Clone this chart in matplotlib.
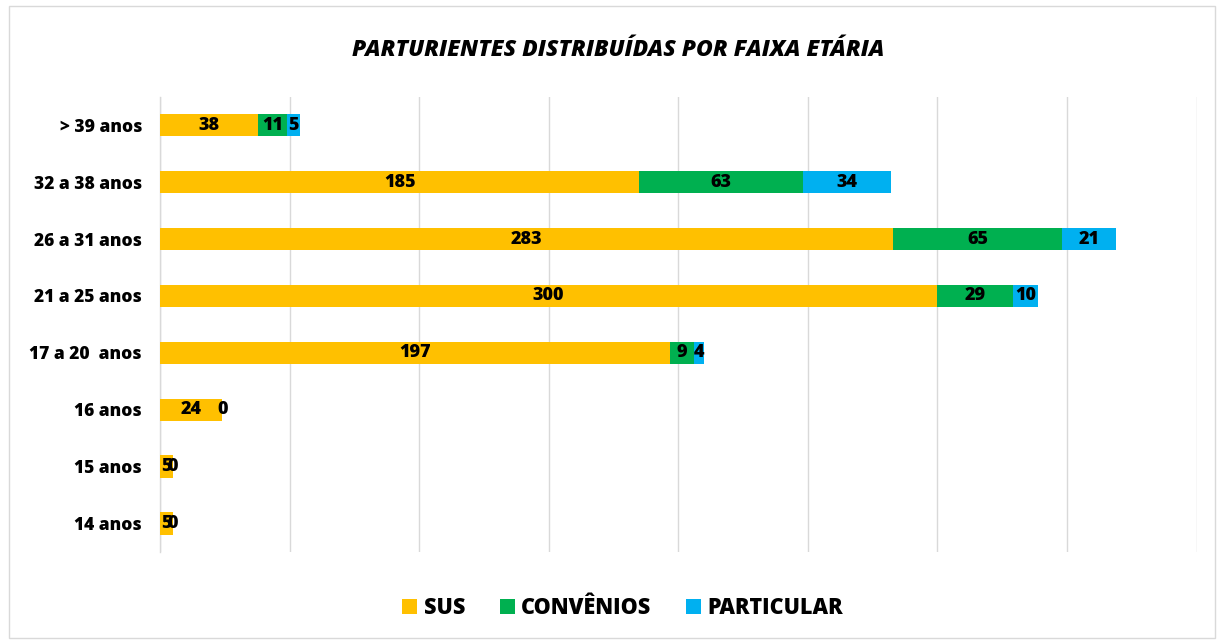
import numpy as np
import matplotlib
matplotlib.use("Agg")
import matplotlib.pyplot as plt
from matplotlib.patches import Rectangle

plt.rcParams['font.family'] = ['Open Sans', 'DejaVu Sans']
W = 800  # heavy weight, closer to the reference

# data
categorias = ['14 anos', '15 anos', '16 anos', '17 a 20  anos', '21 a 25 anos',
              '26 a 31 anos', '32 a 38 anos', '> 39 anos']
sus = [5, 5, 24, 197, 300, 283, 185, 38]
convenios = [0, 0, 0, 9, 29, 65, 63, 11]
particular = [None, None, None, 4, 10, 21, 34, 5]

c_sus = '#FFC000'
c_conv = '#00B050'
c_part = '#00B0F0'

fig = plt.figure(figsize=(12.21, 6.41), dpi=100)
ax = fig.add_axes([0.131, 0.139, 0.849, 0.710])

y = np.arange(len(categorias))
h = 0.39
sus_a = np.array(sus, dtype=float)
conv_a = np.array(convenios, dtype=float)
part_a = np.array([p if p is not None else 0 for p in particular], dtype=float)

b1 = ax.barh(y, sus_a, h, color=c_sus, label='SUS', zorder=3)
b2 = ax.barh(y, conv_a, h, left=sus_a, color=c_conv, label='CONVÊNIOS', zorder=3)
b3 = ax.barh(y, part_a, h, left=sus_a + conv_a, color=c_part, label='PARTICULAR', zorder=3)

F = 13
for i in range(len(y)):
    ax.text(sus_a[i] / 2, y[i], str(sus[i]), ha='center', va='center',
            fontsize=F, fontweight=W, zorder=4)
    ax.text(sus_a[i] + conv_a[i] / 2, y[i], str(convenios[i]), ha='center', va='center',
            fontsize=F, fontweight=W, zorder=4)
    if particular[i] is not None:
        ax.text(sus_a[i] + conv_a[i] + part_a[i] / 2, y[i], str(particular[i]),
                ha='center', va='center', fontsize=F, fontweight=W, zorder=4)

ax.set_xlim(0, 400)
ax.set_ylim(-0.5, len(y) - 0.5)
ax.set_xticks(np.arange(0, 401, 50))
ax.set_xticklabels([])
ax.tick_params(axis='x', length=0)
ax.tick_params(axis='y', length=0, pad=13)
ax.set_yticks(y)
ax.set_yticklabels(categorias, fontsize=12.5, fontweight=W)
ax.grid(axis='x', color='#d9d9d9', linewidth=1, zorder=0)
for sp in ['top', 'right', 'bottom']:
    ax.spines[sp].set_visible(False)
ax.spines['left'].set_color('#d9d9d9')
ax.spines['left'].set_linewidth(1)

fig.text(0.506, 0.922, 'PARTURIENTES DISTRIBUÍDAS POR FAIXA ETÁRIA', ha='center', va='center',
         fontsize=16.5, fontweight=W, fontstyle='italic')

leg = fig.legend(handles=[b1, b2, b3], loc='center', bbox_to_anchor=(0.510, 0.051), ncol=3,
                 frameon=False, fontsize=15.5, handlelength=0.7, handleheight=0.7,
                 handletextpad=0.3, columnspacing=1.6)
for t in leg.get_texts():
    t.set_fontweight(W)

fig.patches.append(Rectangle((0.007, 0.005), 0.988, 0.985, transform=fig.transFigure,
                             fill=False, edgecolor='#d9d9d9', linewidth=1))

plt.savefig('out.png', dpi=100)
